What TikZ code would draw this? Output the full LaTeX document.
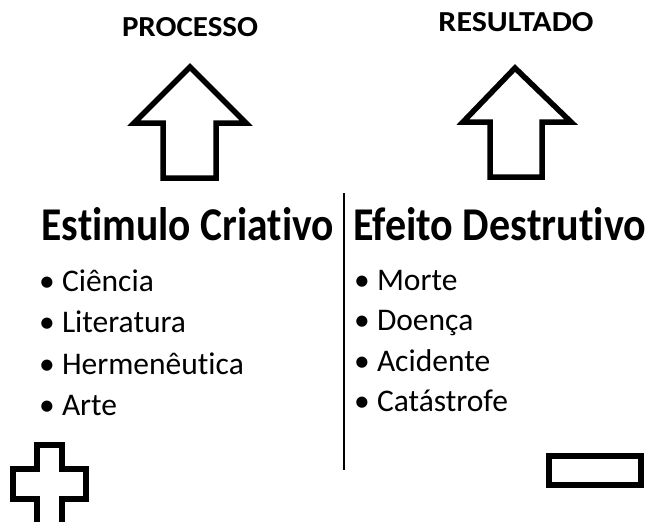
\documentclass[tikz,border=0pt]{standalone}
\usepackage{fontspec}
\setmainfont{Carlito}[Ligatures={NoCommon}]
\usepackage{graphicx}
\begin{document}
\begin{tikzpicture}[x=1pt,y=-1pt,
  head/.style={font=\bfseries\fontsize{29}{32}\selectfont, anchor=base, inner sep=0pt},
  title/.style={font=\bfseries\fontsize{47}{52}\selectfont, anchor=base west, inner sep=0pt},
  item/.style={font=\fontsize{31.5}{36}\selectfont, anchor=base west, inner sep=0pt},
  bigarrow/.style={draw, line width=5.5pt, miter limit=10},
  sign/.style={draw, line width=6pt, miter limit=10}]
\useasboundingbox (0,0) rectangle (651,522);
\fill[white] (0,0) rectangle (651,522);
% headings
\node[head] (proc) at (190,36.7) {\resizebox{136pt}{\height}{PROCESSO}};
\node[head] (res) at (516,31.7) {\resizebox{155pt}{\height}{RESULTADO}};
% up arrows
\draw[bigarrow] (190,67) -- (246,123) -- (216,123) -- (216,178) -- (163,178) -- (163,123) -- (134,123) -- cycle;
\draw[bigarrow] (515,68) -- (571,122) -- (542,122) -- (542,177) -- (490,177) -- (490,122) -- (463,122) -- cycle;
% divider
\coordinate (dtop) at (343.5,193);
\coordinate (dbot) at (343.5,470);
\draw[line width=2pt] (dtop) -- (dbot);
% titles
\node[title] (t1) at (41.5,240.5) {\resizebox{292pt}{\height}{Estimulo Criativo}};
\node[title] (t2) at (353,240) {\resizebox{293pt}{\height}{Efeito Destrutivo}};
% items
\node[item] (a1) at (39,291.5) {• Ciência};
\node[item] (a2) at (39,332.5) {• Literatura};
\node[item] (a3) at (39,374) {• Hermenêutica};
\node[item] (a4) at (39,415) {• Arte};
\node[item] (b1) at (354,290) {• Morte};
\node[item] (b2) at (354,330.5) {• Doença};
\node[item] (b3) at (354,371) {• Acidente};
\node[item] (b4) at (354,411.5) {• Catástrofe};
% plus
\draw[sign] (37,445) -- (62,445) -- (62,469) -- (86,469) -- (86,498.5) -- (62,498.5) -- (62,540) -- (37,540) -- (37,498.5) -- (13,498.5) -- (13,469) -- (37,469) -- cycle;
% minus
\draw[sign] (549,456) rectangle (641,485);
\end{tikzpicture}
\end{document}
